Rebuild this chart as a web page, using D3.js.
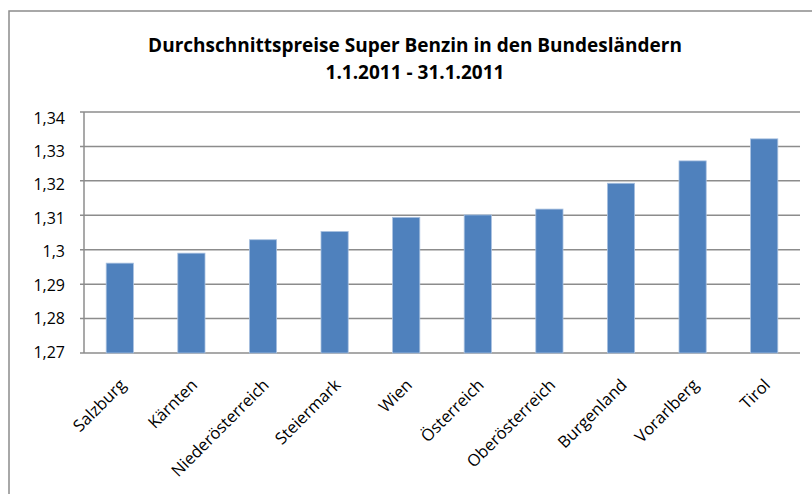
<!DOCTYPE html>
<html lang="de">
<head>
    <meta charset="UTF-8">
    <title>Durchschnittspreise Super Benzin</title>
    <script src="https://d3js.org/d3.v7.min.js"></script>
    <style>
        body { margin: 0; background: #fff; }
        text { font-family: "Open Sans", Lato, sans-serif; fill: #000; }
    </style>
</head>
<body>
<svg id="chart"></svg>
<script>
// Daten
var laender = ["Salzburg", "Kärnten", "Niederösterreich", "Steiermark", "Wien",
               "Österreich", "Oberösterreich", "Burgenland", "Vorarlberg", "Tirol"];
var preise = [1.2961, 1.2990, 1.3029, 1.3053, 1.3094, 1.3101, 1.3118, 1.3193, 1.3258, 1.3322];
var yTicks = [1.27, 1.28, 1.29, 1.30, 1.31, 1.32, 1.33, 1.34];
var titel = ["Durchschnittspreise Super Benzin in den Bundesländern", "1.1.2011 - 31.1.2011"];

var width = 812, height = 494;
var margin = {top: 112, right: 12, bottom: 141, left: 84};

var svg = d3.select("#chart")
    .attr("width", width)
    .attr("height", height);

// Rahmen um das Diagramm
svg.append("rect")
    .attr("x", 9).attr("y", 11)
    .attr("width", 820).attr("height", 500)
    .attr("fill", "none")
    .attr("stroke", "#8c8c8c")
    .attr("stroke-width", 1.5);

// Titel
svg.selectAll(".titel")
    .data(titel)
    .enter().append("text")
    .attr("class", "titel")
    .attr("x", 415)
    .attr("y", function(d, i) { return 52 + i * 27; })
    .attr("text-anchor", "middle")
    .style("font-weight", "bold")
    .style("font-size", "19px")
    .text(function(d) { return d; });

var x = d3.scaleBand()
    .domain(laender)
    .range([margin.left, width - margin.right])
    .paddingInner(0.62)
    .paddingOuter(0.31);

var y = d3.scaleLinear()
    .domain([1.27, 1.34])
    .range([height - margin.bottom, margin.top]);

// Beschriftungen stehen etwas enger als die Gitterlinien
var yLabel = d3.scaleLinear()
    .domain([1.27, 1.34])
    .range([352, 118]);

// Gitternetzlinien
svg.selectAll(".grid")
    .data(yTicks)
    .enter().append("line")
    .attr("class", "grid")
    .attr("x1", margin.left - 4)
    .attr("x2", width - margin.right)
    .attr("y1", function(d) { return y(d); })
    .attr("y2", function(d) { return y(d); })
    .attr("stroke", "#8c8c8c")
    .attr("stroke-width", 1.5);

// y-Achse
svg.append("line")
    .attr("x1", margin.left).attr("x2", margin.left)
    .attr("y1", margin.top).attr("y2", height - margin.bottom)
    .attr("stroke", "#8c8c8c")
    .attr("stroke-width", 1.5);

// y-Beschriftung mit Komma als Dezimaltrennzeichen
var fmt = d3.formatLocale({decimal: ",", thousands: ".", grouping: [3], currency: ["", "€"]});
svg.selectAll(".ylabel")
    .data(yTicks)
    .enter().append("text")
    .attr("class", "ylabel")
    .attr("x", 65)
    .attr("y", function(d) { return yLabel(d); })
    .attr("dy", "0.35em")
    .attr("text-anchor", "end")
    .style("font-size", "16px")
    .text(function(d) { return fmt.format("~g")(+d.toFixed(2)); });

// Balken
svg.selectAll(".bar")
    .data(preise)
    .enter().append("rect")
    .attr("class", "bar")
    .attr("x", function(d, i) { return x(laender[i]); })
    .attr("width", x.bandwidth())
    .attr("y", function(d) { return y(d); })
    .attr("height", function(d) { return y(1.27) - y(d); })
    .attr("fill", "#4f81bd")
    .attr("stroke", "#a9c1e0")
    .attr("stroke-width", 0.8);

// x-Beschriftung, um 45° gedreht
svg.selectAll(".xlabel")
    .data(laender)
    .enter().append("text")
    .attr("class", "xlabel")
    .attr("text-anchor", "end")
    .attr("transform", function(d) {
        return "translate(" + (x(d) + x.bandwidth() / 2 + 7) + "," + 386 + ") rotate(-45)";
    })
    .style("font-size", "16.5px")
    .text(function(d) { return d; });
</script>
</body>
</html>
